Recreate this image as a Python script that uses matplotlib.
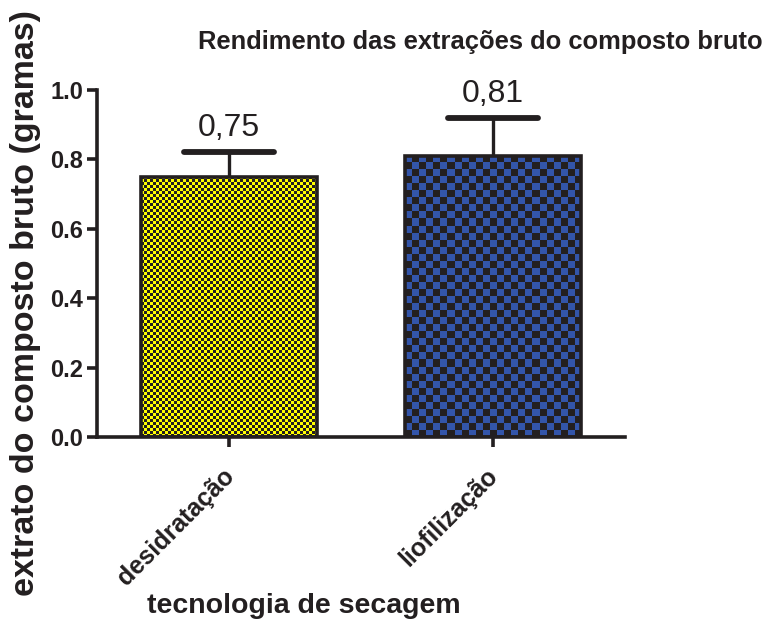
import numpy as np
import matplotlib
matplotlib.use("Agg")
import matplotlib.pyplot as plt
import matplotlib.transforms as mtransforms
from matplotlib.colors import ListedColormap

plt.rcParams['font.family'] = ['Liberation Sans', 'DejaVu Sans']

# data
categories = ['desidratação', 'liofilização']
means = [0.75, 0.81]
sd = [0.07, 0.11]
value_labels = ['0,75', '0,81']

fill_colors = ['#ffff00', '#3355aa']
cell_px = [3, 7]
dark = '#231f20'

fig = plt.figure(figsize=(7.67, 6.21), dpi=100)
ax = fig.add_axes([97/767, 1 - 437/621, 528/767, 347/621])

x = np.arange(len(categories))
width = 0.67
cap_half = 0.17

bars = ax.bar(x, means, width, color='none', edgecolor=dark, linewidth=2.6, zorder=3)

# checkerboard fill, clipped to each bar
px_per_x = 528 / 2.0
px_per_y = 347 / 1.0
for i, b in enumerate(bars):
    x0, x1 = b.get_x(), b.get_x() + b.get_width()
    h = b.get_height()
    ncol = int(round((x1 - x0) * px_per_x / cell_px[i]))
    nrow = int(round(h * px_per_y / cell_px[i]))
    board = (np.indices((nrow, ncol)).sum(axis=0) % 2)
    cmap = ListedColormap([dark, fill_colors[i]])
    im = ax.imshow(board, cmap=cmap, extent=(x0, x1, 0, h), origin='lower',
                   interpolation='nearest', aspect='auto', zorder=2)
    im.set_clip_path(b)

# upper error bars only
for xi, m, s in zip(x, means, sd):
    ax.plot([xi, xi], [m, m + s], color=dark, lw=2.4, zorder=1, clip_on=False)
    ax.plot([xi - cap_half, xi + cap_half], [m + s, m + s], color=dark, lw=4.2,
            solid_capstyle='round', zorder=1, clip_on=False)

for xi, m, s, lab in zip(x, means, sd, value_labels):
    ax.annotate(lab, (xi, m + s), xytext=(0, 11.5), textcoords='offset points',
                ha='center', va='baseline', fontsize=23, color=dark)

ax.set_xlim(-0.5, 1.5)
ax.set_ylim(0, 1.0)
ax.set_yticks([0.0, 0.2, 0.4, 0.6, 0.8, 1.0])
ax.set_yticklabels(['0.0', '0.2', '0.4', '0.6', '0.8', '1.0'], fontsize=17, fontweight='bold', color=dark)
ax.set_xticks(x)
ax.set_xticklabels(categories, rotation=45, ha='right', rotation_mode='anchor',
                   fontsize=18, fontweight='bold', color=dark)

for side in ['top', 'right']:
    ax.spines[side].set_visible(False)
for side in ['left', 'bottom']:
    ax.spines[side].set_linewidth(2.6)
    ax.spines[side].set_color(dark)
ax.tick_params(axis='both', width=2.6, length=7, color=dark)
ax.tick_params(axis='x', pad=12)
ax.tick_params(axis='y', pad=3)

# nudge the rotated category labels a little to the left
shift = mtransforms.ScaledTranslation(-7/100, 0, fig.dpi_scale_trans)
for lbl in ax.xaxis.get_majorticklabels():
    lbl.set_transform(lbl.get_transform() + shift)

ax.set_ylabel('extrato do composto bruto (gramas)', fontsize=24.5, fontweight='bold', color=dark)
ax.yaxis.set_label_coords((41 - 97) / 528, (437 - 303) / 347)
ax.set_xlabel('tecnologia de secagem', fontsize=20.5, fontweight='bold', color=dark)
ax.xaxis.set_label_coords((304 - 97) / 528, (437 - 593) / 347)

fig.text(480/767, 1 - 42/621, 'Rendimento das extrações do composto bruto',
         ha='center', va='center', fontsize=18.4, fontweight='bold', color=dark)

fig.savefig('out.png', dpi=100)
